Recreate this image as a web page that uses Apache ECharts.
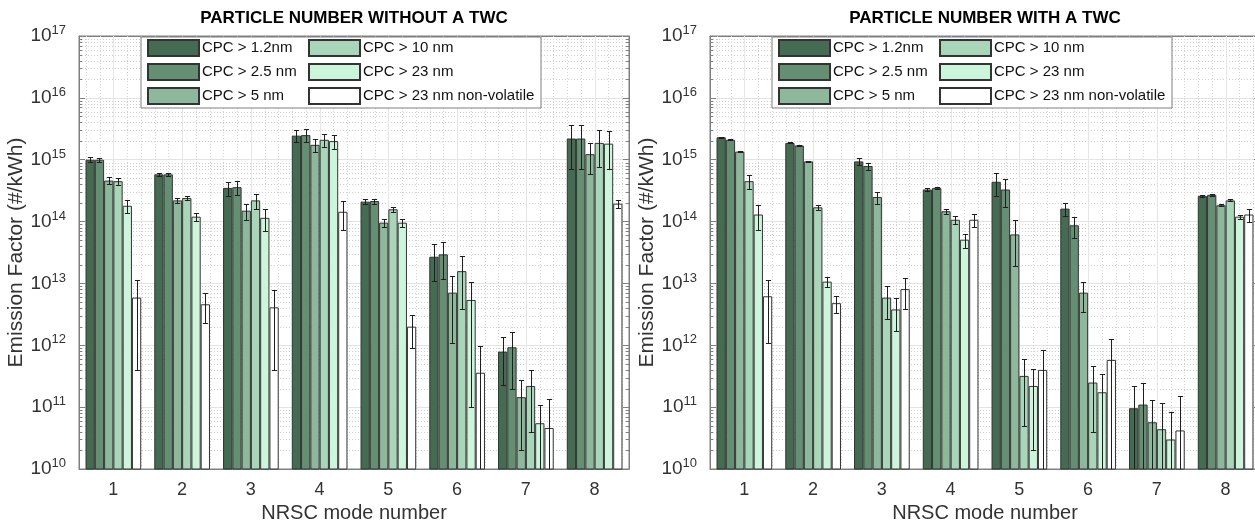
<!DOCTYPE html>
<html><head><meta charset="utf-8">
<script src="https://cdn.jsdelivr.net/npm/echarts@6/dist/echarts.min.js"></script>
<style>html,body{margin:0;padding:0;background:#fff}#c{width:1255px;height:524px}</style>
</head><body><div id="c"></div><script>
// ---------- data ----------
const modes = ['1','2','3','4','5','6','7','8'];
const seriesNames = ['CPC > 1.2nm','CPC > 2.5 nm','CPC > 5 nm','CPC > 10 nm','CPC > 23 nm','CPC > 23 nm non-volatile'];
const chartTitles = ['PARTICLE NUMBER WITHOUT A TWC','PARTICLE NUMBER WITH A TWC'];
const decadeExponents = [10,11,12,13,14,15,16];
const minorMultipliers = [2,3,4,5,6,7,8,9];

// without TWC (mean, standard deviation)
const noTwc12   = [1.0e15, 5.8e14, 3.5e14, 2.45e15, 2.1e14, 2.7e13, 7.9e11, 2.2e15];
const noTwc12Sd = [9e13, 4e13, 9e13, 5.5e14, 2e13, 1.6e13, 5.6e11, 1.5e15];
const noTwc25   = [1.0e15, 5.8e14, 3.6e14, 2.5e15, 2.15e14, 2.95e13, 9.3e11, 2.2e15];
const noTwc25Sd = [7e13, 4e13, 9e13, 6e14, 2e13, 1.75e13, 7.3e11, 1.5e15];
const noTwc5    = [4.6e14, 2.2e14, 1.5e14, 1.74e15, 9.6e13, 7.1e12, 1.45e11, 1.23e15];
const noTwc5Sd  = [6e13, 2.3e13, 4.5e13, 4e14, 1.3e13, 6e12, 1.25e11, 6.4e14];
const noTwc10   = [4.5e14, 2.4e14, 2.2e14, 2.1e15, 1.58e14, 1.58e13, 2.2e11, 1.87e15];
const noTwc10Sd = [6e13, 2e13, 6e13, 5e14, 1.6e13, 1.2e13, 1.8e11, 1.1e15];
const noTwc23   = [1.8e14, 1.2e14, 1.15e14, 2.0e15, 9.6e13, 5.4e12, 5.5e10, 1.82e15];
const noTwc23Sd = [4e13, 1.9e13, 4.5e13, 5e14, 1.3e13, 5.3e12, 5.5e10, 1.1e15];
const noTwcNv   = [5.9e12, 4.6e12, 4.1e12, 1.44e14, 2.0e12, 3.6e11, 4.6e10, 1.95e14];
const noTwcNvSd = [5.5e12, 2.3e12, 3.7e12, 7e13, 1.1e12, 6.2e11, 9e10, 2.7e13];

// with TWC (mean, standard deviation)
const twc12   = [2.3e15, 1.87e15, 9.4e14, 3.3e14, 4.4e14, 1.62e14, 9.6e10, 2.6e14];
const twc12Sd = [3e13, 3e13, 1.2e14, 1.5e13, 1.8e14, 4e13, 1.25e11, 1e13];
const twc25   = [2.1e15, 1.7e15, 7.9e14, 3.5e14, 3.3e14, 8.7e13, 1.1e11, 2.7e14];
const twc25Sd = [3e13, 3e13, 1e14, 1.5e13, 1.6e14, 3.3e13, 1.4e11, 1e13];
const twc5    = [1.35e15, 9.4e14, 2.5e14, 1.47e14, 6.2e13, 7.1e12, 5.7e10, 1.84e14];
const twc5Sd  = [2e13, 2e13, 5.5e13, 1.2e13, 4.3e13, 3.6e12, 7.5e10, 6e12];
const twc10   = [4.5e14, 1.7e14, 5.9e12, 1.07e14, 3.2e11, 2.5e11, 4.4e10, 2.2e14];
const twc10Sd = [1.1e14, 1.5e13, 3.2e12, 1.7e13, 2.7e11, 2.1e11, 7.2e10, 8e12];
const twc23   = [1.3e14, 1.07e13, 3.8e12, 5.1e13, 2.2e11, 1.74e11, 3.0e10, 1.2e14];
const twc23Sd = [5.6e13, 1.8e12, 2.1e12, 1.3e13, 2.0e11, 1.65e11, 5.3e10, 1e13];
const twcNv   = [6.2e12, 4.8e12, 8.1e12, 1.07e14, 4.0e11, 5.8e11, 4.2e10, 1.3e14];
const twcNvSd = [5.1e12, 1.5e12, 4.2e12, 2.5e13, 4.4e11, 6.7e11, 1.1e11, 3e13];

// ---------- style ----------
const FONT = "'Liberation Sans', Arial, Helvetica, sans-serif";
const colors = ['#456b52','#658f73','#8db89b','#a9d5b8','#cdf5dc','#ffffff'];
const AXIS_MIN = 1e10, AXIS_MAX = 1e17;
const BAR_FRAC = 0.135;
const gridLefts = [79, 710];
const GRID_TOP = 36, GRID_W = 550, GRID_H = 433;
const AXIS_COLOR = '#7f7f7f';
const TEXT_COLOR = '#333';

const values = [[noTwc12,noTwc25,noTwc5,noTwc10,noTwc23,noTwcNv],[twc12,twc25,twc5,twc10,twc23,twcNv]];
const sds = [[noTwc12Sd,noTwc25Sd,noTwc5Sd,noTwc10Sd,noTwc23Sd,noTwcNvSd],[twc12Sd,twc25Sd,twc5Sd,twc10Sd,twc23Sd,twcNvSd]];

const minorVals = [];
decadeExponents.forEach(e => minorMultipliers.forEach(m => minorVals.push(m * Math.pow(10, e))));

function crisp(v){ return Math.round(v) + 0.5; }

function minorYRender(params, api){
  const cs = params.coordSys;
  const y = crisp(api.coord([0, api.value(1)])[1]);
  return {type:'group', children:[
    {type:'line', shape:{x1:cs.x, y1:y, x2:cs.x+cs.width, y2:y}, style:{stroke:'#cfcfcf', lineWidth:1, lineDash:[1,2]}},
    {type:'line', shape:{x1:cs.x, y1:y, x2:cs.x+3, y2:y}, style:{stroke:AXIS_COLOR, lineWidth:1}},
    {type:'line', shape:{x1:cs.x+cs.width-3, y1:y, x2:cs.x+cs.width, y2:y}, style:{stroke:AXIS_COLOR, lineWidth:1}}
  ]};
}
function vertRender(params, api){
  const cs = params.coordSys;
  const idx = api.value(0);
  const cx = api.coord([idx, AXIS_MIN])[0];
  const band = api.size([1,0],[idx, AXIS_MIN])[0];
  const ch = [];
  [-0.4,-0.2,0.2,0.4].forEach(f => {
    const x = crisp(cx + f*band);
    ch.push({type:'line', shape:{x1:x, y1:cs.y, x2:x, y2:cs.y+cs.height}, style:{stroke:'#d4d4d4', lineWidth:1, lineDash:[1,2]}});
  });
  const x0 = crisp(cx);
  ch.push({type:'line', shape:{x1:x0, y1:cs.y, x2:x0, y2:cs.y+cs.height}, style:{stroke:'#e6e6e6', lineWidth:1}});
  return {type:'group', children:ch};
}
function errRender(k){
  return function(params, api){
    const idx = api.value(0), v = api.value(1), sd = api.value(2);
    const cs = params.coordSys;
    const band = api.size([1,0],[idx, v])[0];
    const bw = band*BAR_FRAC;
    const cx = crisp(api.coord([idx, v])[0] + (k-2.5)*bw);
    const yTop = crisp(api.coord([idx, v+sd])[1]);
    const lo = v - sd;
    const bottom = cs.y + cs.height;
    const yLo = lo > AXIS_MIN ? crisp(api.coord([idx, lo])[1]) : bottom;
    const cap = 2.6;
    const st = {stroke:'#1e1e1e', lineWidth:1};
    const ch = [
      {type:'line', shape:{x1:cx, y1:yTop, x2:cx, y2:yLo}, style:st},
      {type:'line', shape:{x1:cx-cap, y1:yTop, x2:cx+cap, y2:yTop}, style:st}
    ];
    if (lo > AXIS_MIN) ch.push({type:'line', shape:{x1:cx-cap, y1:yLo, x2:cx+cap, y2:yLo}, style:st});
    return {type:'group', children:ch};
  };
}

const grid = [], xAxis = [], yAxis = [], series = [], title = [], legend = [], graphic = [];
for (let g = 0; g < 2; g++) {
  const L = gridLefts[g];
  grid.push({left:L, top:GRID_TOP, width:GRID_W, height:GRID_H, show:true, borderColor:AXIS_COLOR, borderWidth:1,
    backgroundColor:'#fff', containLabel:false, outerBoundsMode:'none'});
  title.push({text:chartTitles[g], left:L + GRID_W/2, textAlign:'center', top:10, padding:0,
    textStyle:{fontFamily:FONT, fontSize:17, fontWeight:'bold', color:'#000'}});
  xAxis.push({type:'category', gridIndex:g, data:modes, position:'bottom',
    axisLine:{lineStyle:{color:AXIS_COLOR}},
    axisTick:{alignWithLabel:true, inside:true, length:5, lineStyle:{color:AXIS_COLOR}},
    axisLabel:{fontFamily:FONT, fontSize:18, color:TEXT_COLOR, margin:12},
    splitLine:{show:false},
    name:'NRSC mode number', nameLocation:'middle', nameGap:34,
    nameTextStyle:{fontFamily:FONT, fontSize:20, color:TEXT_COLOR}});
  yAxis.push({type:'log', logBase:10, gridIndex:g, min:AXIS_MIN, max:AXIS_MAX, position:'left',
    axisLine:{show:true, lineStyle:{color:AXIS_COLOR}},
    axisTick:{show:true, inside:true, length:6, lineStyle:{color:AXIS_COLOR}},
    axisLabel:{showMinLabel:true, showMaxLabel:true, margin:13, color:TEXT_COLOR,
      formatter: v => '{b|10}{s|' + Math.round(Math.log10(v)) + '}',
      rich:{b:{fontFamily:FONT, fontSize:19, color:TEXT_COLOR, lineHeight:24},
            s:{fontFamily:FONT, fontSize:13, color:TEXT_COLOR, verticalAlign:'top', lineHeight:12}}},
    splitLine:{show:true, lineStyle:{color:'#e3e3e3', width:1}},
    name:'Emission Factor (#/kWh)', nameLocation:'middle', nameGap:48, nameRotate:90,
    nameTextStyle:{fontFamily:FONT, fontSize:21, color:TEXT_COLOR}});
}
// top & right axes for the box ticks
for (let g = 0; g < 2; g++) {
  xAxis.push({type:'category', gridIndex:g, data:modes, position:'top',
    axisLine:{show:true, lineStyle:{color:AXIS_COLOR}},
    axisTick:{alignWithLabel:true, inside:true, length:5, lineStyle:{color:AXIS_COLOR}},
    axisLabel:{show:false}, splitLine:{show:false}});
  yAxis.push({type:'log', logBase:10, gridIndex:g, min:AXIS_MIN, max:AXIS_MAX, position:'right',
    axisLine:{show:true, lineStyle:{color:AXIS_COLOR}},
    axisTick:{show:true, inside:true, length:6, lineStyle:{color:AXIS_COLOR}},
    axisLabel:{show:false}, splitLine:{show:false}});
}

for (let g = 0; g < 2; g++) {
  series.push({type:'custom', name:'minorY'+g, xAxisIndex:g, yAxisIndex:g, silent:true, z:1,
    data: minorVals.map(v => [0, v]), renderItem: minorYRender});
  series.push({type:'custom', name:'vert'+g, xAxisIndex:g, yAxisIndex:g, silent:true, z:1,
    data: modes.map((m, i) => [i, AXIS_MIN]), renderItem: vertRender});
}
for (let g = 0; g < 2; g++) {
  for (let k = 0; k < 6; k++) {
    series.push({type:'bar', name:seriesNames[k], xAxisIndex:g, yAxisIndex:g, z:2,
      data: values[g][k], barWidth:(BAR_FRAC*100)+'%', barGap:'0%',
      itemStyle:{color:colors[k], borderColor:'#333', borderWidth:1}, emphasis:{disabled:true}});
  }
  for (let k = 0; k < 6; k++) {
    series.push({type:'custom', name:'err'+g+'_'+k, xAxisIndex:g, yAxisIndex:g, silent:true, z:3,
      data: values[g][k].map((v, i) => [i, v, sds[g][k][i]]), renderItem: errRender(k)});
  }
}

for (let g = 0; g < 2; g++) {
  const L = gridLefts[g];
  graphic.push({type:'rect', z:9, silent:true, shape:{x:L+62, y:37, width:400, height:71},
    style:{fill:'#fff', stroke:AXIS_COLOR, lineWidth:1}});
  [[0,1,2],[3,4,5]].forEach((ids, c) => {
    legend.push({data: ids.map(i => seriesNames[i]), orient:'vertical', left: L + (c === 0 ? 68 : 229), top:39,
      itemWidth:51, itemHeight:16, itemGap:6, padding:0, selectedMode:false, z:10,
      icon:'rect',
      textStyle:{fontFamily:FONT, fontSize:15, lineHeight:16, color:'#111', padding:[0,0,0,-2]}});
  });
}

const chart = echarts.init(document.getElementById('c'), null, {renderer:'canvas'});
chart.setOption({animation:false, backgroundColor:'#fff', title, grid, xAxis, yAxis, legend, graphic, series});
</script></body></html>
